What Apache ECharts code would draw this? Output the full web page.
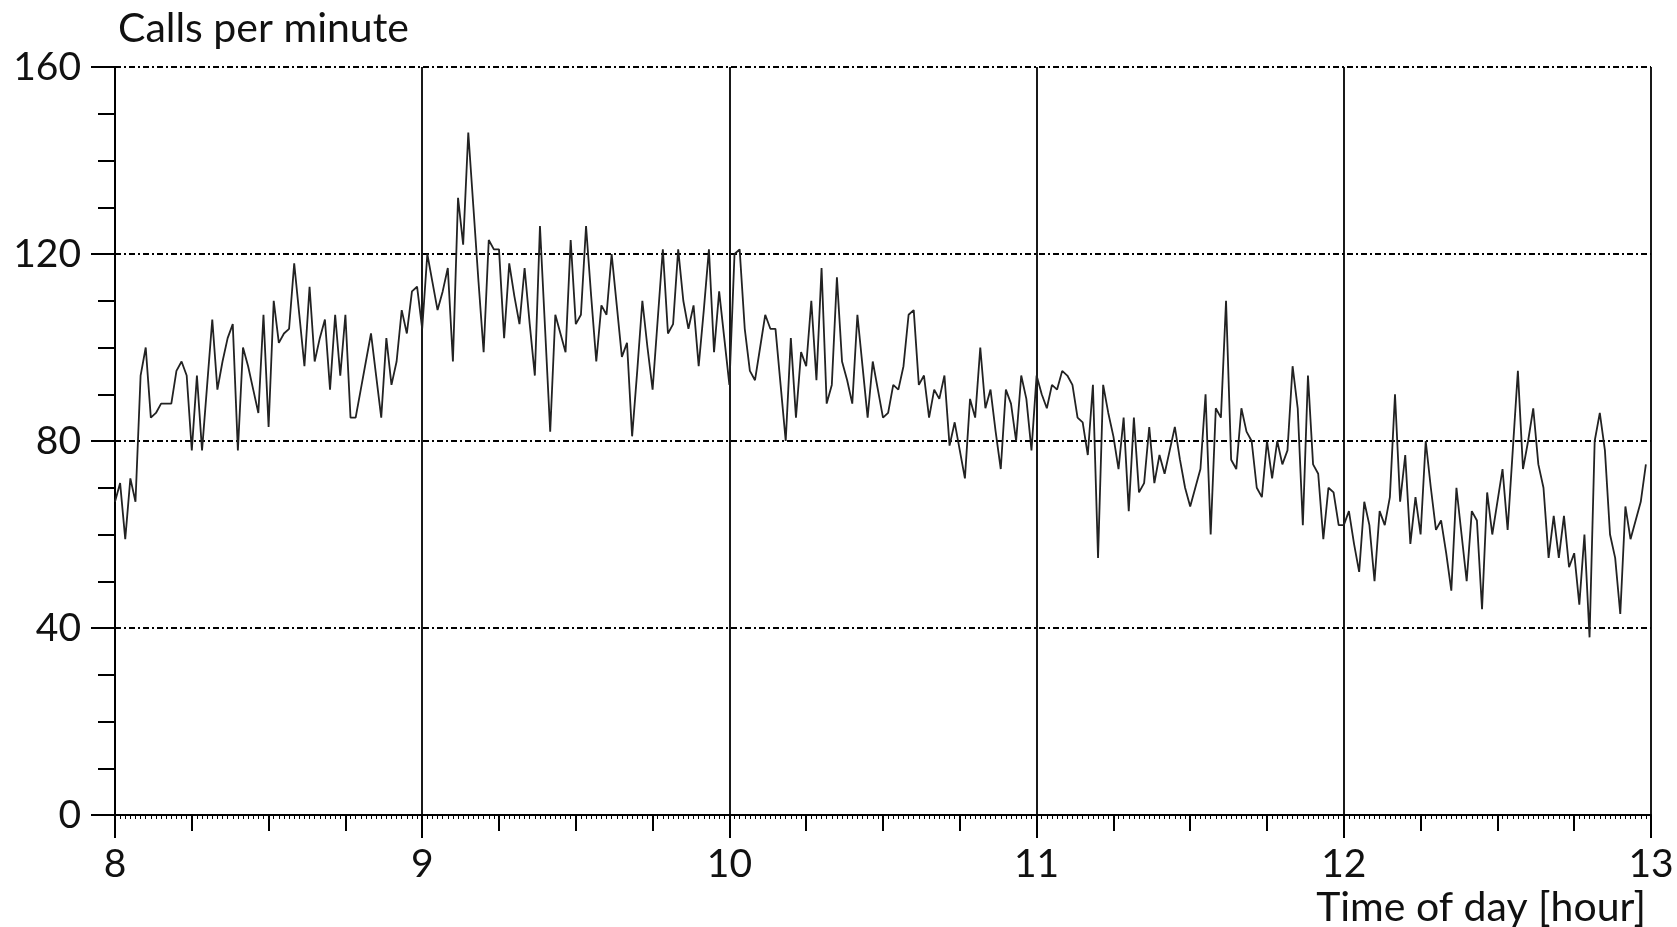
<!DOCTYPE html>
<html>
<head>
<meta charset="utf-8">
<script src="https://cdn.jsdelivr.net/npm/echarts@6/dist/echarts.min.js"></script>
<style>
html,body{margin:0;padding:0;background:#fff;}
#chart{width:1677px;height:927px;}
</style>
</head>
<body>
<div id="chart"></div>
<script>
// Calls per minute, one value per minute starting at 8:00
const startHour = 8;
const callsPerMinute = [
  // 8:00 - 8:29
  67,71,59,72,67,94,100,85,86,88, 88,88,95,97,94,78,94,78,92,106, 91,97,102,105,78,100,96,91,86,107,
  // 8:30 - 8:59
  83,110,101,103,104,118,107,96,113,97, 102,106,91,107,94,107,85,85,91,97, 103,94,85,102,92,97,108,103,112,113,
  // 9:00 - 9:29
  104,120,114,108,112,117,97,132,122,146, 130,114,99,123,121,121,102,118,111,105, 117,105,94,126,104,82,107,103,99,123,
  // 9:30 - 9:59
  105,107,126,111,97,109,107,120,109,98, 101,81,95,110,100,91,106,121,103,105, 121,110,104,109,96,108,121,99,112,102,
  // 10:00 - 10:29
  92,120,121,104,95,93,100,107,104,104, 92,80,102,85,99,96,110,93,117,88, 92,115,97,93,88,107,96,85,97,91,
  // 10:30 - 10:59
  85,86,92,91,96,107,108,92,94,85, 91,89,94,79,84,78,72,89,85,100, 87,91,82,74,91,88,80,94,89,78,
  // 11:00 - 11:29
  94,90,87,92,91,95,94,92,85,84, 77,92,55,92,86,81,74,85,65,85, 69,71,83,71,77,73,78,83,76,70,
  // 11:30 - 11:59
  66,70,74,90,60,87,85,110,76,74, 87,82,80,70,68,80,72,80,75,78, 96,87,62,94,75,73,59,70,69,62,
  // 12:00 - 12:29
  62,65,58,52,67,62,50,65,62,68, 90,67,77,58,68,60,80,70,61,63, 56,48,70,60,50,65,63,44,69,60,
  // 12:30 - 12:59
  67,74,61,78,95,74,80,87,75,70, 55,64,55,64,53,56,45,60,38,80, 86,78,60,55,43,66,59,63,67,75
];
const yTicks = { min: 0, max: 160, step: 40 };
const xTicks = { min: 8, max: 13, step: 1, quarter: 0.25 };
const yTitle = 'Calls per minute';
const xTitle = 'Time of day [hour]';

const seriesData = callsPerMinute.map((v, i) => [startHour + i / 60, v]);

const FONT = 'Lato';
const TXT = '#111';
const chart = echarts.init(document.getElementById('chart'), null, {renderer: 'canvas'});
chart.setOption({
  animation: false,
  backgroundColor: '#fff',
  title: [
    {text: yTitle, left: 113, top: 3,
     textStyle: {fontFamily: FONT, fontSize: 41, fontWeight: 'normal', color: TXT}},
    {text: xTitle, right: 26, top: 882,
     textStyle: {fontFamily: FONT, fontSize: 41, fontWeight: 'normal', color: TXT}}
  ],
  grid: {left: 115, right: 26, top: 67, bottom: 112, containLabel: false},
  xAxis: [
    {
      type: 'value', min: xTicks.min, max: xTicks.max, interval: xTicks.step,
      axisLine: {show: true, lineStyle: {color: '#000', width: 2}},
      axisTick: {show: true, length: 23, lineStyle: {color: '#000', width: 2}},
      minorTick: {show: true, splitNumber: 60, length: 4, lineStyle: {color: '#000', width: 1}},
      splitLine: {show: true, lineStyle: {color: '#000', width: 1.8}},
      axisLabel: {fontFamily: FONT, fontSize: 39, color: TXT, margin: 30}
    },
    {
      type: 'value', min: xTicks.min, max: xTicks.max, interval: xTicks.quarter,
      position: 'bottom', offset: 0,
      axisLine: {show: false},
      axisTick: {show: true, length: 16, lineStyle: {color: '#000', width: 2}},
      axisLabel: {show: false},
      splitLine: {show: false}
    }
  ],
  yAxis: {
    type: 'value', min: yTicks.min, max: yTicks.max, interval: yTicks.step,
    axisLine: {show: true, lineStyle: {color: '#000', width: 2}},
    axisTick: {show: true, length: 24, lineStyle: {color: '#000', width: 2}},
    minorTick: {show: true, splitNumber: 4, length: 17, lineStyle: {color: '#000', width: 2}},
    splitLine: {show: true, lineStyle: {color: '#000', width: 2, type: [6, 3, 2, 3]}},
    axisLabel: {fontFamily: FONT, fontSize: 39, color: TXT, margin: 34}
  },
  series: [{
    type: 'line',
    xAxisIndex: 0,
    data: seriesData,
    showSymbol: false,
    lineStyle: {color: '#222', width: 1.8},
    z: 5
  }]
});
</script>
</body>
</html>
